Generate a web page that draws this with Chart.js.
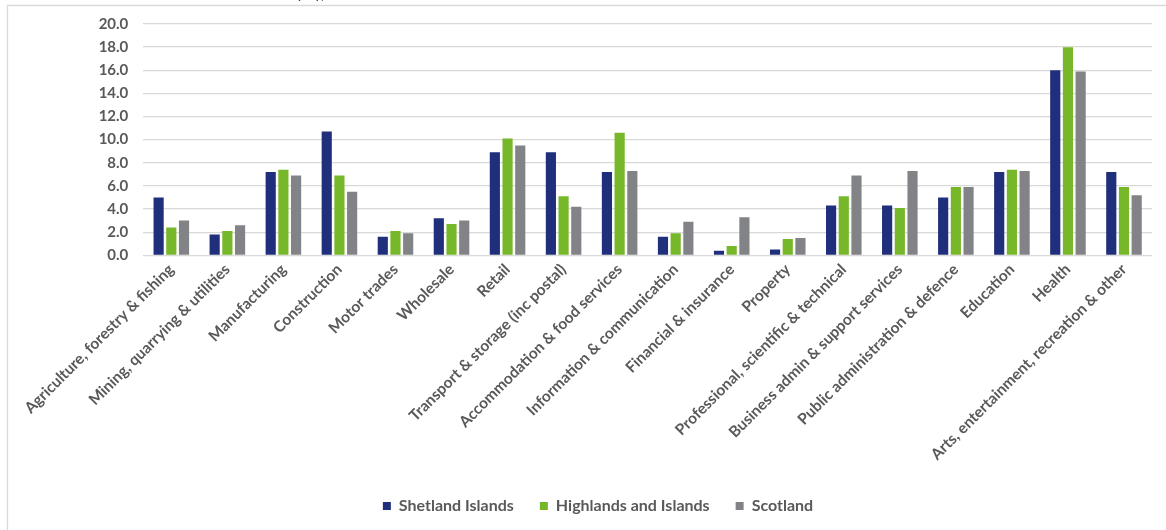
<!DOCTYPE html>
<html>
<head>
<meta charset="utf-8">
<script src="https://cdn.jsdelivr.net/npm/chart.js@4/dist/chart.umd.min.js"></script>
<style>
  html, body { margin: 0; padding: 0; background: #ffffff; }
  #wrap { width: 1166px; height: 530px; position: relative; }
</style>
</head>
<body>
<div id="wrap"><canvas id="c" width="1166" height="530"></canvas></div>
<script>
const categories = [
  "Agriculture, forestry & fishing",
  "Mining, quarrying & utilities",
  "Manufacturing",
  "Construction",
  "Motor trades",
  "Wholesale",
  "Retail",
  "Transport & storage (inc postal)",
  "Accommodation & food services",
  "Information & communication",
  "Financial & insurance",
  "Property",
  "Professional, scientific & technical",
  "Business admin & support services",
  "Public administration & defence",
  "Education",
  "Health",
  "Arts, entertainment, recreation & other"
];
const shetland  = [5.0, 1.8, 7.2, 10.7, 1.6, 3.2, 8.9, 8.9, 7.2, 1.6, 0.4, 0.5, 4.3, 4.3, 5.0, 7.2, 16.0, 7.2];
const highlands = [2.4, 2.1, 7.4, 6.9, 2.1, 2.7, 10.1, 5.1, 10.6, 1.9, 0.8, 1.4, 5.1, 4.1, 5.9, 7.4, 18.0, 5.9];
const scotland  = [3.0, 2.6, 6.9, 5.5, 1.9, 3.0, 9.5, 4.2, 7.3, 2.9, 3.3, 1.5, 6.9, 7.3, 5.9, 7.3, 15.9, 5.2];
const seriesNames = ["Shetland Islands", "Highlands and Islands", "Scotland"];
const titleFragment = "(%),";

const FONT = "Lato, 'Open Sans', sans-serif";
const TXT = "#595959";

const framePlugin = {
  id: "frame",
  afterLayout(chart) {
    const lg = chart.legend;
    if (lg) { lg.left += 22; lg.right += 22; }
  },
  beforeDraw(chart) {
    const ctx = chart.ctx;
    ctx.save();
    ctx.strokeStyle = "#d9d9d9";
    ctx.lineWidth = 1.3;
    ctx.beginPath();
    ctx.moveTo(7.5, 530);
    ctx.lineTo(7.5, 5.5);
    ctx.lineTo(1166, 5.5);
    ctx.stroke();
    ctx.fillStyle = "#000000";
    ctx.font = "bold 18px " + FONT;
    ctx.textBaseline = "alphabetic";
    ctx.fillText(titleFragment, 296, -2);
    ctx.restore();
  }
};

new Chart(document.getElementById("c"), {
  type: "bar",
  data: {
    labels: categories,
    datasets: [
      { label: seriesNames[0], data: shetland,  backgroundColor: "#1f2f7b" },
      { label: seriesNames[1], data: highlands, backgroundColor: "#76b82a" },
      { label: seriesNames[2], data: scotland,  backgroundColor: "#828386" }
    ]
  },
  options: {
    responsive: false,
    animation: false,
    layout: { padding: { left: 0, right: 14, top: 24, bottom: 6 } },
    datasets: { bar: { categoryPercentage: 0.68, barPercentage: 0.8 } },
    scales: {
      x: {
        grid: { display: false, drawTicks: false },
        border: { display: false },
        ticks: {
          autoSkip: false, maxRotation: 45, minRotation: 45, padding: 5,
          color: TXT, font: { family: FONT, size: 15.5, weight: "bold" }
        },
        afterFit(scale) { scale.height = 216.7; }
      },
      y: {
        min: 0, max: 20,
        ticks: {
          stepSize: 2, padding: 15, color: TXT,
          font: { family: FONT, size: 15, weight: "bold" },
          callback: (v) => Number(v).toFixed(1)
        },
        grid: { color: "#d9d9d9", lineWidth: 1.3, drawTicks: false },
        border: { display: false },
        afterFit(scale) { scale.width = 143.3; }
      }
    },
    plugins: {
      legend: {
        position: "bottom",
        labels: {
          boxWidth: 8, boxHeight: 8, padding: 26, color: TXT,
          font: { family: FONT, size: 16, weight: "bold" }
        }
      },
      tooltip: { enabled: false }
    }
  },
  plugins: [framePlugin]
});
</script>
</body>
</html>
